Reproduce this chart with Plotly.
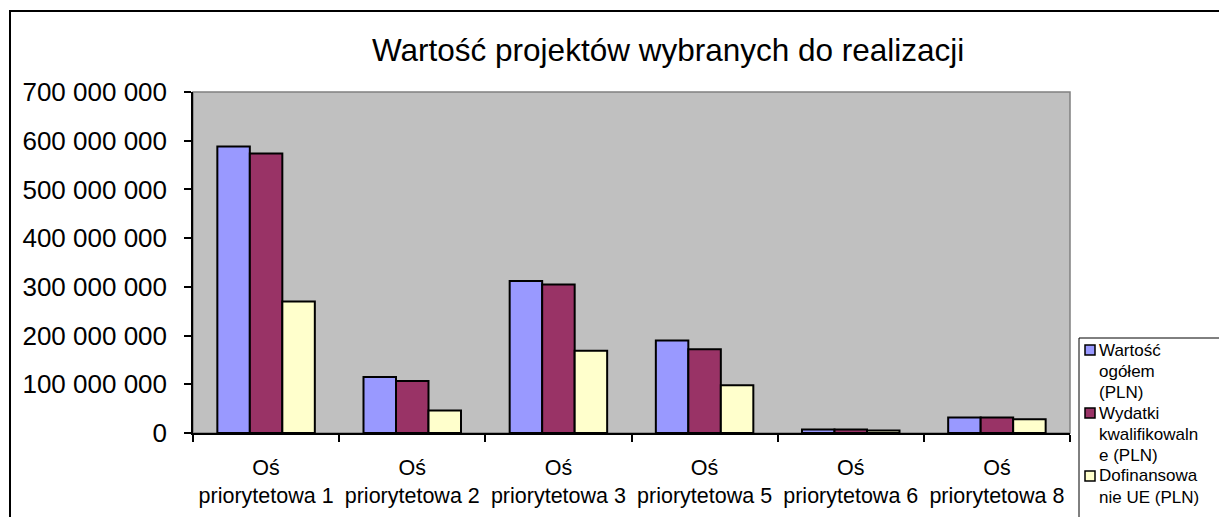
import plotly.graph_objects as go

# ---------------- data ----------------
categories = ["Oś<br>priorytetowa 1", "Oś<br>priorytetowa 2", "Oś<br>priorytetowa 3",
              "Oś<br>priorytetowa 5", "Oś<br>priorytetowa 6", "Oś<br>priorytetowa 8"]
series_names = ["Wartość ogółem (PLN)", "Wydatki kwalifikowalne (PLN)", "Dofinansowanie UE (PLN)"]
wartosc_ogolem = [588e6, 115e6, 312e6, 190e6, 7e6, 32e6]
wydatki_kwalif = [574e6, 107e6, 305e6, 172e6, 7e6, 32e6]
dofinansowanie = [270e6, 46e6, 169e6, 98e6, 5e6, 28e6]
series_values = [wartosc_ogolem, wydatki_kwalif, dofinansowanie]
colors = ["#9999FF", "#993366", "#FFFFCC"]
legend_lines = [["Wartość", "ogółem", "(PLN)"],
                ["Wydatki", "kwalifikowaln", "e (PLN)"],
                ["Dofinansowa", "nie UE (PLN)"]]
y_ticks = [0, 100e6, 200e6, 300e6, 400e6, 500e6, 600e6, 700e6]
title = "Wartość projektów wybranych do realizacji"

# ---------------- layout geometry (pixels) ----------------
W, H = 1219, 517
PL, PR, PT, PB = 193, 1070, 92, 433
FONT = "Liberation Sans, Arial, sans-serif"


def px_x(x):
    return (x - PL) / (PR - PL)


def px_y(y):
    return (PB - y) / (PB - PT)


fig = go.Figure()
for name, vals, col in zip(series_names, series_values, colors):
    fig.add_trace(go.Bar(
        x=categories, y=vals, name=name, showlegend=False,
        marker=dict(color=col, line=dict(color="black", width=2)),
        hovertemplate="%{y:,.0f}<extra>" + name + "</extra>",
    ))

shapes = [
    # plot area border (gray)
    dict(type="rect", xref="paper", yref="paper", x0=0, x1=1, y0=0, y1=1,
         line=dict(color="#808080", width=1.5), layer="below"),
    # outer frame
    dict(type="rect", xref="paper", yref="paper",
         x0=px_x(10), x1=px_x(1240), y0=px_y(540), y1=px_y(11),
         line=dict(color="black", width=2)),
    # legend box
    dict(type="rect", xref="paper", yref="paper",
         x0=px_x(1079), x1=px_x(1240), y0=px_y(540), y1=px_y(338),
         line=dict(color="black", width=1), fillcolor="white"),
]

annotations = []
line_step = 21
first_line = 350
k = 0
for lines, col in zip(legend_lines, colors):
    sy = first_line + k * line_step
    shapes.append(dict(type="rect", xref="paper", yref="paper",
                       x0=px_x(1085), x1=px_x(1095), y0=px_y(sy + 5), y1=px_y(sy - 5),
                       line=dict(color="black", width=1.5), fillcolor=col))
    for txt in lines:
        yy = first_line + k * line_step
        annotations.append(dict(text=txt, xref="paper", yref="paper",
                                x=px_x(1098), y=px_y(yy), xanchor="left", yanchor="middle",
                                showarrow=False, borderpad=0,
                                font=dict(family=FONT, size=17, color="black")))
        k += 1

annotations.append(dict(text=title, xref="paper", yref="paper",
                        x=px_x(668), y=px_y(50), xanchor="center", yanchor="middle",
                        showarrow=False, font=dict(family=FONT, size=31.5, color="black")))

fig.update_layout(
    width=W, height=H,
    margin=dict(l=PL, r=W - PR, t=PT, b=H - PB, pad=0),
    paper_bgcolor="white", plot_bgcolor="#C0C0C0",
    barmode="group", bargap=0.333, bargroupgap=0,
    separators=", ",
    shapes=shapes, annotations=annotations,
    font=dict(family=FONT, color="black"),
)
fig.update_xaxes(
    type="category", range=[-0.5, 5.5], showgrid=False, automargin=False,
    showline=True, linecolor="black", linewidth=1.5,
    ticks="outside", ticklen=7, tickcolor="black", tickwidth=1.5,
    tickson="boundaries", tickfont=dict(family=FONT, size=21.5, color="black"),
    ticklabelstandoff=14,
)
fig.update_yaxes(
    range=[0, 700e6], tickvals=y_ticks, tickformat=",d", showgrid=False, automargin=False,
    showline=True, linecolor="black", linewidth=1.5,
    ticks="outside", ticklen=7, tickcolor="black", tickwidth=1.5,
    tickfont=dict(family=FONT, size=26, color="black"), zeroline=False,
    ticklabelstandoff=12,
)

fig.write_html("out.html", config={"displayModeBar": False},
               post_script="document.body.style.margin='0';document.body.style.overflow='hidden';")
